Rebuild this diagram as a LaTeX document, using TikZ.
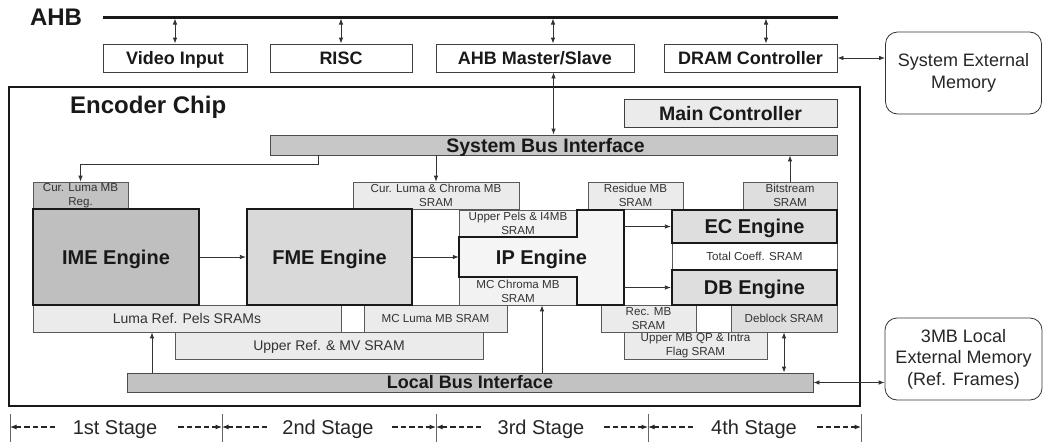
\documentclass[tikz,border=0pt]{standalone}
\usepackage{fontspec}
\setmainfont{Liberation Sans}
\usetikzlibrary{arrows.meta}

\begin{document}
\begin{tikzpicture}
    [
      x=1pt, y=-1pt,
      >={Latex[length=6pt, width=4.5pt]},
      TOPBOX/.style={rectangle, draw=black!75, fill=white, line width=0.8pt, minimum height=28pt, inner sep=0pt, font=\fontsize{18}{20}\selectfont\bfseries, text=black!90, text height=12.9pt, text depth=0pt},
      MEMORY/.style={rectangle, rounded corners=12pt, draw=black!80, fill=white, line width=0.8pt, inner sep=0pt, align=center, font=\fontsize{18}{22}\selectfont, text=black!85},
      BUS/.style={rectangle, draw=black!70, fill=black!22, line width=0.8pt, inner sep=0pt, font=\fontsize{19.5}{21}\selectfont\bfseries, text=black!90, text height=14pt, text depth=0pt},
      SRAM/.style={rectangle, draw=black!65, fill=black!8, line width=0.7pt, inner sep=0pt, align=center, font=\fontsize{11.6}{14}\selectfont, text=black!80},
      ENGINE/.style={rectangle, draw=black!90, line width=2.2pt, inner sep=0pt, font=\fontsize{20}{22}\selectfont\bfseries, text=black!90, text height=14.3pt, text depth=0pt},
      LINK/.style={line width=0.8pt, black!80},
      STAGE/.style={inner sep=0pt, font=\fontsize{20}{22}\selectfont, text=black!85, text height=14.3pt, text depth=0pt},
      STAGEARROW/.style={line width=1.1pt, black!85, dash pattern=on 5.5pt off 3pt, >={Latex[length=6.5pt, width=5pt]}},
    ]
    \useasboundingbox (0,0) rectangle (1043,442);

    % AHB bus and the blocks on it
    \node[inner sep=0pt, font=\fontsize{24}{26}\selectfont\bfseries, text=black!90] (ahbLabel) at (56,17) {AHB};
    \coordinate (busStart) at (103,17);
    \coordinate (busEnd) at (838,17);
    \draw[line width=3pt, black!90] (busStart) -- (busEnd);

    \node[TOPBOX, minimum width=144pt] (videoInput) at (175,58) {Video Input};
    \node[TOPBOX, minimum width=142pt] (risc) at (341,58) {RISC};
    \node[TOPBOX, minimum width=198pt] (ahbMasterSlave) at (535,58) {AHB Master/Slave};
    \node[TOPBOX, minimum width=173pt] (dramController) at (750.5,58) {DRAM Controller};
    \node[MEMORY, minimum width=156pt, minimum height=82pt] (sysExtMem) at (963.5,73) {System External\\Memory};

    \draw[LINK, <->, shorten <=1.5pt] (videoInput.north |- busStart) -- (videoInput.north);
    \draw[LINK, <->, shorten <=1.5pt] (risc.north |- busStart) -- (risc.north);
    \draw[LINK, <->, shorten <=1.5pt] ([xshift=18pt]ahbMasterSlave.north |- busStart) -- ([xshift=18pt]ahbMasterSlave.north);
    \draw[LINK, <->, shorten <=1.5pt] ([xshift=15.5pt]dramController.north |- busStart) -- ([xshift=15.5pt]dramController.north);
    \draw[LINK, <->] (dramController.east) -- (dramController.east -| sysExtMem.west);

    % encoder chip
    \node[rectangle, draw=black!90, line width=2.5pt, minimum width=851pt, minimum height=319pt] (encoderChip) at (434.5,246.5) {};
    \node[inner sep=0pt, anchor=west, font=\fontsize{24}{26}\selectfont\bfseries, text=black!90] (chipTitle) at (70,107) {Encoder Chip};
    \node[TOPBOX, fill=black!8, minimum width=213pt, font=\fontsize{19.5}{21}\selectfont\bfseries, text height=14pt] (mainController) at (730.5,113) {Main Controller};
    \node[BUS, minimum width=567pt, minimum height=20pt] (sysBusIf) at (553.5,145) {\hspace*{-16pt}System Bus Interface};
    \node[BUS, fill=black!24, minimum width=686pt, minimum height=19pt, font=\fontsize{18}{20}\selectfont\bfseries, text height=12.9pt] (localBusIf) at (470,382.5) {Local Bus Interface};

    % SRAMs
    \node[SRAM, fill=black!24, minimum width=95pt, minimum height=27pt] (curLumaReg) at (80.5,195.5) {Cur. Luma MB\\Reg.};
    \node[SRAM, minimum width=166pt, minimum height=27pt] (curLumaChroma) at (436,195.5) {Cur. Luma \& Chroma MB\\SRAM};
    \node[SRAM, minimum width=95pt, minimum height=27pt] (residueSram) at (635.5,195.5) {Residue MB\\SRAM};
    \node[SRAM, fill=black!13, minimum width=94pt, minimum height=27pt] (bitstreamSram) at (790,195.5) {Bitstream\\SRAM};
    \node[SRAM, fill=black!5, minimum width=118pt, minimum height=27pt] (upperPels) at (518,223.5) {Upper Pels \& I4MB\\SRAM};
    \node[SRAM, fill=black!5, minimum width=118pt, minimum height=28pt] (mcChroma) at (518,291) {MC Chroma MB\\SRAM};
    \node[SRAM, fill=white, minimum width=165pt, minimum height=27pt] (totalCoeff) at (754.5,256.5) {Total Coeff. SRAM};
    \node[SRAM, minimum width=308pt, minimum height=27pt, font=\fontsize{14}{16}\selectfont] (lumaRefPels) at (187,318.5) {Luma Ref. Pels SRAMs};
    \node[SRAM, minimum width=143pt, minimum height=27pt] (mcLuma) at (435.5,318.5) {MC Luma MB SRAM};
    \node[SRAM, minimum width=95pt, minimum height=27pt] (recMb) at (648.5,318.5) {Rec. MB\\SRAM};
    \node[SRAM, fill=black!13, minimum width=106pt, minimum height=27pt] (deblockSram) at (784,318.5) {Deblock SRAM};
    \node[SRAM, minimum width=308pt, minimum height=27pt, font=\fontsize{14}{16}\selectfont, text height=10pt, text depth=0pt] (upperRefMv) at (329,345.5) {Upper Ref. \& MV SRAM};
    \node[SRAM, minimum width=143pt, minimum height=27pt] (upperMbQp) at (695.5,345.5) {Upper MB QP \& Intra\\Flag SRAM};

    % engines
    \node[ENGINE, fill=black!25, minimum width=166pt, minimum height=96pt] (imeEngine) at (116,257) {IME Engine};
    \node[ENGINE, fill=black!15, minimum width=165pt, minimum height=96pt] (fmeEngine) at (329.5,257) {FME Engine};
    \draw[draw=black!90, line width=2.2pt, fill=black!4] (upperPels.south west) -- (upperPels.south east) -- (upperPels.north east) -- ++(47,0) |- (mcChroma.south east) -- (mcChroma.north east) -- (mcChroma.north west) -- cycle;
    \node[inner sep=0pt, minimum width=165pt, minimum height=96pt, font=\fontsize{20}{22}\selectfont\bfseries, text=black!90, text height=14.3pt, text depth=0pt] (ipEngine) at (541.5,257) {IP Engine};
    \node[ENGINE, fill=black!13, minimum width=165pt, minimum height=33pt] (ecEngine) at (754.5,226.5) {EC Engine};
    \node[ENGINE, fill=black!13, minimum width=165pt, minimum height=35pt] (dbEngine) at (754.5,287.5) {DB Engine};

    % connections inside the chip
    \draw[LINK, <->] (sysBusIf.north) -- (sysBusIf.north |- ahbMasterSlave.south);
    \draw[LINK, ->] ([xshift=-235.5pt]sysBusIf.south) -- ++(0,9) -| (curLumaReg.north);
    \draw[LINK, ->] (curLumaChroma.north |- sysBusIf.south) -- (curLumaChroma.north);
    \draw[LINK, ->] (bitstreamSram.north) -- (bitstreamSram.north |- sysBusIf.south);
    \draw[LINK, ->] (imeEngine.east) -- (fmeEngine.west);
    \draw[LINK, ->] (fmeEngine.east) -- (ipEngine.west);
    \draw[LINK, ->] (ipEngine.east |- ecEngine.west) -- (ecEngine.west);
    \draw[LINK, ->] (ipEngine.east |- dbEngine.west) -- (dbEngine.west);
    \draw[LINK, <-] ([xshift=-35pt]lumaRefPels.south) -- ([xshift=-35pt]lumaRefPels.south |- localBusIf.north);
    \draw[LINK, <-] ([xshift=24pt]mcChroma.south) -- ([xshift=24pt]mcChroma.south |- localBusIf.north);
    \draw[LINK, <->] (deblockSram.south) -- (deblockSram.south |- localBusIf.north);

    % local external memory
    \node[MEMORY, minimum width=157pt, minimum height=82pt, font=\fontsize{18}{21.5}\selectfont] (localExtMem) at (963.5,359) {3MB Local\\External Memory\\(Ref. Frames)};
    \draw[LINK, <->] (localBusIf.east) -- (localBusIf.east -| localExtMem.west);

    % pipeline stages
    \coordinate (tickA) at (10,414);
    \coordinate (tickB) at (222,414);
    \coordinate (tickC) at (436,414);
    \coordinate (tickD) at (648,414);
    \coordinate (tickE) at (861,414);
    \draw[line width=0.8pt, black!60] (tickA) -- ++(0,28);
    \draw[line width=0.8pt, black!60] (tickB) -- ++(0,28);
    \draw[line width=0.8pt, black!60] (tickC) -- ++(0,28);
    \draw[line width=0.8pt, black!60] (tickD) -- ++(0,28);
    \draw[line width=0.8pt, black!60] (tickE) -- ++(0,28);

    \node[STAGE] (stageOne) at (115,427) {1st Stage};
    \node[STAGE] (stageTwo) at (328,427) {2nd Stage};
    \node[STAGE] (stageThree) at (541,427) {3rd Stage};
    \node[STAGE] (stageFour) at (754,427) {4th Stage};

    \draw[STAGEARROW, <-] (tickA |- stageOne) -- ++(46,0);
    \draw[STAGEARROW, ->] (tickB |- stageOne) ++(-44,0) -- (tickB |- stageOne);
    \draw[STAGEARROW, <-] (tickB |- stageTwo) -- ++(46,0);
    \draw[STAGEARROW, ->] (tickC |- stageTwo) ++(-44,0) -- (tickC |- stageTwo);
    \draw[STAGEARROW, <-] (tickC |- stageThree) -- ++(46,0);
    \draw[STAGEARROW, ->] (tickD |- stageThree) ++(-44,0) -- (tickD |- stageThree);
    \draw[STAGEARROW, <-] (tickD |- stageFour) -- ++(46,0);
    \draw[STAGEARROW, ->] (tickE |- stageFour) ++(-44,0) -- (tickE |- stageFour);

  \end{tikzpicture}
\end{document}
